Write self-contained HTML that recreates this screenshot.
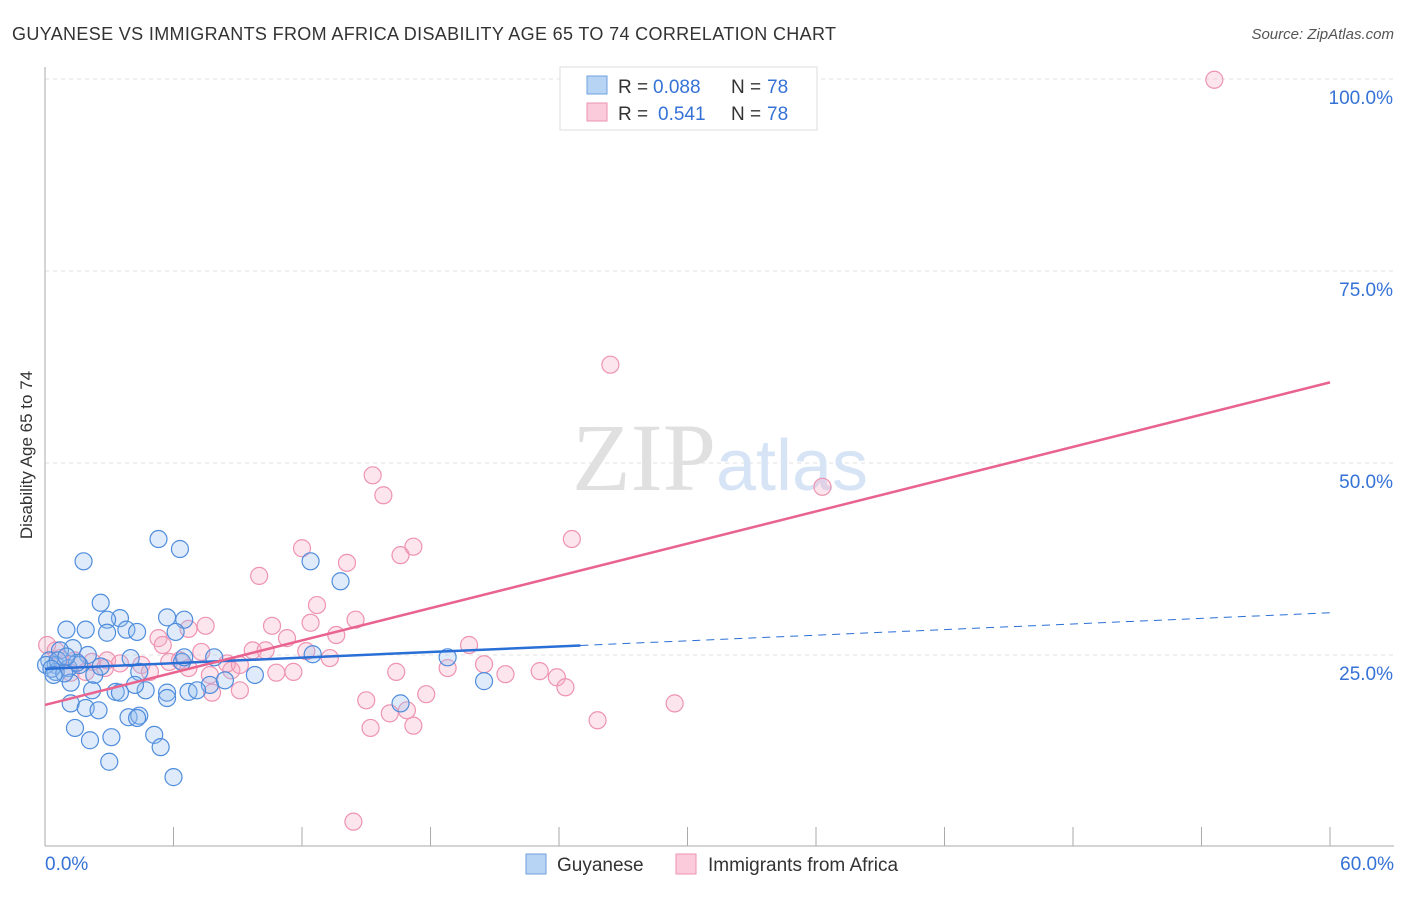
<!DOCTYPE html>
<html><head><meta charset="utf-8"><style>
body{margin:0;background:#fff;font-family:"Liberation Sans",sans-serif}
svg text{font-family:"Liberation Sans",sans-serif}
</style></head><body>
<svg width="1406" height="892">
<text x="12" y="40" font-size="18" fill="#333" textLength="824">GUYANESE VS IMMIGRANTS FROM AFRICA DISABILITY AGE 65 TO 74 CORRELATION CHART</text>
<text x="1394" y="39" font-size="15" fill="#555" font-style="italic" text-anchor="end">Source: ZipAtlas.com</text>
<text x="32" y="455" font-size="17" fill="#333" text-anchor="middle" transform="rotate(-90 32 455)">Disability Age 65 to 74</text>
<g id="grid"></g>
<text x="720" y="490" font-size="96" text-anchor="middle" font-family="Liberation Serif"><tspan fill="#e0e0e0" font-family="Liberation Serif">ZIP</tspan><tspan fill="#d6e4f6" font-family="Liberation Sans" font-size="72">atlas</tspan></text>
<g id="pts"></g>
<g id="lines"></g>
<g>
<rect x="560" y="67" width="257" height="63" fill="#fff" stroke="#ddd"/>
<rect x="587" y="76" width="20" height="18" fill="#b8d4f5" stroke="#6fa1e0"/>
<rect x="587" y="103" width="20" height="18" fill="#fbcbdb" stroke="#ee93b2"/>
<text x="618" y="93" font-size="19" fill="#333">R =</text>
<text x="653" y="93" font-size="19" fill="#3572d6">0.088</text>
<text x="731" y="93" font-size="19" fill="#333">N =</text>
<text x="767" y="93" font-size="19" fill="#3572d6">78</text>
<text x="618" y="120" font-size="19" fill="#333">R =</text>
<text x="658" y="120" font-size="19" fill="#3572d6">0.541</text>
<text x="731" y="120" font-size="19" fill="#333">N =</text>
<text x="767" y="120" font-size="19" fill="#3572d6">78</text>
</g>
<g>
<rect x="526" y="854" width="20" height="20" fill="#b8d4f5" stroke="#6fa1e0"/>
<text x="557" y="871" font-size="19" fill="#333">Guyanese</text>
<rect x="676" y="854" width="20" height="20" fill="#fbcbdb" stroke="#ee93b2"/>
<text x="708" y="871" font-size="19" fill="#333">Immigrants from Africa</text>
</g>
</svg>
<script>
const blueX=[1.8,5.3,6.3,12.4,13.8,2.6,3.5,5.7,6.5,2.9,1.0,1.9,2.9,3.8,4.3,6.1,1.3,2.0,0.7,0.2,0.5,1.1,1.6,2.3,4.0,4.4,7.9,6.4,12.5,18.8,20.5,16.6,1.2,2.2,3.3,4.7,4.2,5.7,6.7,7.7,8.4,9.8,3.5,7.1,1.2,1.9,2.5,3.9,4.4,4.3,1.4,2.1,3.1,5.1,5.4,3.0,6.0,0.5,0.05,0.6,5.7,6.5,0.3,0.9,1.5,2.6,0.4,1.0];
const blueY=[37.2,40.1,38.8,37.2,34.6,31.8,29.8,29.9,29.6,29.6,28.3,28.3,27.9,28.3,28.0,28.0,25.9,25.0,25.6,24.3,23.7,23.3,23.7,22.4,24.6,22.8,24.7,24.1,25.1,24.7,21.6,18.7,21.4,20.4,20.2,20.4,21.1,20.1,20.2,21.1,21.7,22.4,20.1,20.4,18.7,18.1,17.8,16.9,17.1,16.8,15.5,13.9,14.3,14.6,13.0,11.1,9.1,22.8,23.7,24.3,19.4,24.7,23.2,22.6,24.0,23.5,22.4,24.8];
const pinkX=[54.6,26.4,36.3,15.3,15.8,24.6,12.0,17.2,16.6,14.1,10.0,12.7,14.5,12.4,7.5,10.6,6.7,13.6,11.3,19.8,5.3,5.5,9.7,10.3,12.2,13.3,7.3,20.5,18.8,23.1,23.9,21.5,16.4,11.6,10.8,8.7,8.5,24.3,29.4,17.8,15.0,9.1,7.8,25.8,16.1,16.9,17.2,15.2,14.4,0.1,0.7,1.4,2.2,2.9,3.5,4.5,5.8,6.7,7.7,2.8,1.9,1.2,0.5,4.9,6.3,9.1];
const pinkY=[99.9,62.8,46.9,48.4,45.8,40.1,38.9,39.1,38.0,37.0,35.3,31.5,29.6,29.2,28.8,28.8,28.4,27.6,27.2,26.3,27.2,26.3,25.6,25.6,25.5,24.6,25.4,23.8,23.3,22.9,22.1,22.5,22.8,22.8,22.7,23.0,23.9,20.8,18.7,19.9,19.1,20.4,20.1,16.5,17.4,17.8,15.8,15.5,3.3,26.3,24.6,24.3,24.1,24.3,23.9,23.7,24.1,23.3,22.4,23.3,22.8,22.7,25.6,22.8,24.3,23.7];
const yTicks=[25,50,75,100];
const xTickCount=10;
const blueLine=[23.2,30.5], blueSolidEnd=25;
const pinkLine=[18.5,60.5];
const NS='http://www.w3.org/2000/svg';
const sx=v=>45+v/60*1285, sy=v=>847-v/100*768;
function mk(t,a,p){const e=document.createElementNS(NS,t);for(const k in a)e.setAttribute(k,a[k]);p.appendChild(e);return e;}
const grid=document.getElementById('grid');
yTicks.forEach(v=>{
 const l=mk('line',{x1:45,x2:1394,y1:sy(v),y2:sy(v),stroke:'#e2e2e2','stroke-dasharray':'4,4'},grid);
 
 
 const t=mk('text',{x:1393,y:sy(v)+25,'font-size':19,fill:'#3572d6','text-anchor':'end'},grid);
 t.textContent=v.toFixed(1)+'%';
 
 
});
mk('line',{x1:45,x2:45,y1:67,y2:846,stroke:'#aaa'},grid);
mk('line',{x1:45,x2:1394,y1:846,y2:846,stroke:'#aaa'},grid);
for(let i=0;i<=xTickCount;i++){mk('line',{x1:sx(i*6),x2:sx(i*6),y1:827,y2:846,stroke:'#aaa'},grid);}
let t0=mk('text',{x:45,y:870,'font-size':19,fill:'#3572d6'},grid);t0.textContent='0.0%';


let t1=mk('text',{x:1394,y:870,'font-size':19,fill:'#3572d6','text-anchor':'end'},grid);t1.textContent='60.0%';


const pts=document.getElementById('pts');
pinkX.forEach((x,i)=>{const c=mk('circle',{cx:sx(x),cy:sy(pinkY[i]),r:8.5,fill:'rgba(246,170,196,0.3)',stroke:'#ee93b2','stroke-width':1.2},pts);
 
 });
blueX.forEach((x,i)=>{const c=mk('circle',{cx:sx(x),cy:sy(blueY[i]),r:8.5,fill:'rgba(150,190,240,0.3)',stroke:'#4f8ddc','stroke-width':1.2},pts);
 
 });
const lines=document.getElementById('lines');
const by=x=>blueLine[0]+(blueLine[1]-blueLine[0])*x/60;
let bl=mk('line',{x1:sx(0),y1:sy(by(0)),x2:sx(blueSolidEnd),y2:sy(by(blueSolidEnd)),stroke:'#2a6fd6','stroke-width':2.5},lines);


let bd=mk('line',{x1:sx(blueSolidEnd),y1:sy(by(blueSolidEnd)),x2:sx(60),y2:sy(by(60)),stroke:'#2a6fd6','stroke-width':1,'stroke-dasharray':'8,6'},lines);


let pl=mk('line',{x1:sx(0),y1:sy(pinkLine[0]),x2:sx(60),y2:sy(pinkLine[1]),stroke:'#e8648f','stroke-width':2.5},lines);


</script>
</body></html>
